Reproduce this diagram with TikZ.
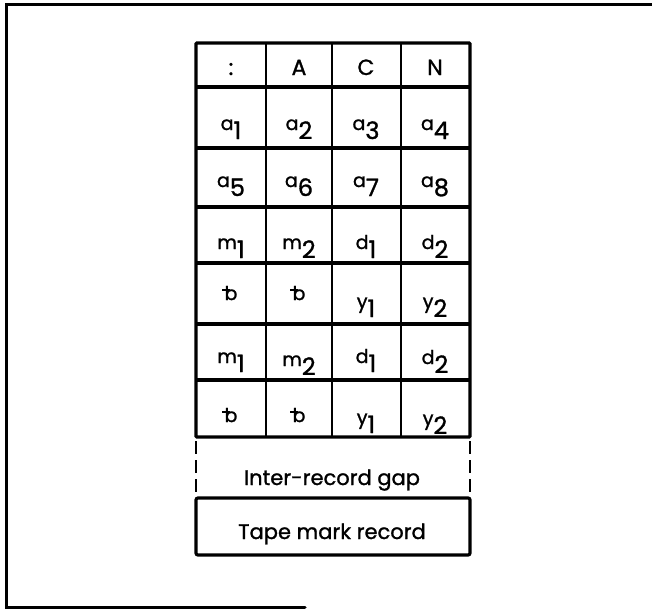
\documentclass[tikz,border=0pt]{standalone}
\usepackage{fontspec}
\setmainfont{Poppins}[FakeBold=1.2]
\newcommand{\blanksym}{\makebox[0pt][l]{\hspace{-0.13em}\rule[0.5em]{0.42em}{0.08em}}b}
\newcommand{\ssub}[2]{{\fontsize{19}{19}\selectfont #1}\raisebox{-9pt}{\fontsize{24}{24}\selectfont #2}}
\tikzset{
  frameline/.style={line width=3pt, line cap=round},
  thickline/.style={line width=3.2pt},
  thinline/.style={line width=1.8pt},
  gapline/.style={line width=2.8pt, dash pattern=on 13pt off 6pt},
  celltext/.style={anchor=base, inner sep=0pt, font=\fontsize{19}{19}\selectfont},
  headtext/.style={anchor=base, inner sep=0pt, font=\fontsize{22}{22}\selectfont},
  labeltext/.style={anchor=base, inner sep=0pt, font=\fontsize{21}{21}\selectfont},
}
\begin{document}
\begin{tikzpicture}[x=1pt,y=-1pt]
\useasboundingbox (0,0) rectangle (652,610);
\fill[white] (0,0) rectangle (652,610);
% outer frame (left, top, bottom only)
\draw[frameline] (305,607) -- (6,607) -- (6,5) -- (652,5);
% table grid
\foreach \y in {87,148,207,263,324,380} \draw[thickline] (196,\y) -- (470,\y);
\foreach \x in {266,332,401} \draw[thinline] (\x,43) -- (\x,437);
\draw[thickline, rounded corners=1pt] (196,43) rectangle (470,437);
% gap
\draw[gapline] (196,441) -- (196,497);
\draw[gapline] (470,441) -- (470,497);
% tape mark record
\draw[thickline, rounded corners=2pt] (196,498) rectangle (470,555);
% header
\node[headtext] (h1) at (231,75) {:};
\node[headtext] (h2) at (299,75) {A};
\node[headtext] (h3) at (366,75) {C};
\node[headtext] (h4) at (435,75) {N};
% row 1
\node[celltext] (r1c1) at (231,130) {\ssub{a}{1}};
\node[celltext] (r1c2) at (299,130) {\ssub{a}{2}};
\node[celltext] (r1c3) at (366,130) {\ssub{a}{3}};
\node[celltext] (r1c4) at (435,130) {\ssub{a}{4}};
% row 2
\node[celltext] (r2c1) at (231,187) {\ssub{a}{5}};
\node[celltext] (r2c2) at (299,187) {\ssub{a}{6}};
\node[celltext] (r2c3) at (366,187) {\ssub{a}{7}};
\node[celltext] (r2c4) at (435,187) {\ssub{a}{8}};
% row 3
\node[celltext] (r3c1) at (231,249) {\ssub{m}{1}};
\node[celltext] (r3c2) at (299,249) {\ssub{m}{2}};
\node[celltext] (r3c3) at (366,249) {\ssub{d}{1}};
\node[celltext] (r3c4) at (435,249) {\ssub{d}{2}};
% row 4
\node[celltext] (r4c1) at (231,300) {\blanksym};
\node[celltext] (r4c2) at (299,300) {\blanksym};
\node[celltext] (r4c3) at (366,308) {\ssub{y}{1}};
\node[celltext] (r4c4) at (435,308) {\ssub{y}{2}};
% row 5
\node[celltext] (r5c1) at (231,363) {\ssub{m}{1}};
\node[celltext] (r5c2) at (299,366) {\ssub{m}{2}};
\node[celltext] (r5c3) at (366,363) {\ssub{d}{1}};
\node[celltext] (r5c4) at (435,364) {\ssub{d}{2}};
% row 6
\node[celltext] (r6c1) at (231,422) {\blanksym};
\node[celltext] (r6c2) at (299,422) {\blanksym};
\node[celltext] (r6c3) at (366,424) {\ssub{y}{1}};
\node[celltext] (r6c4) at (435,425) {\ssub{y}{2}};
% labels
\node[labeltext] (gap) at (332,485) {Inter-record gap};
\node[labeltext] (tape) at (332,539) {Tape mark record};
\end{tikzpicture}
\end{document}
